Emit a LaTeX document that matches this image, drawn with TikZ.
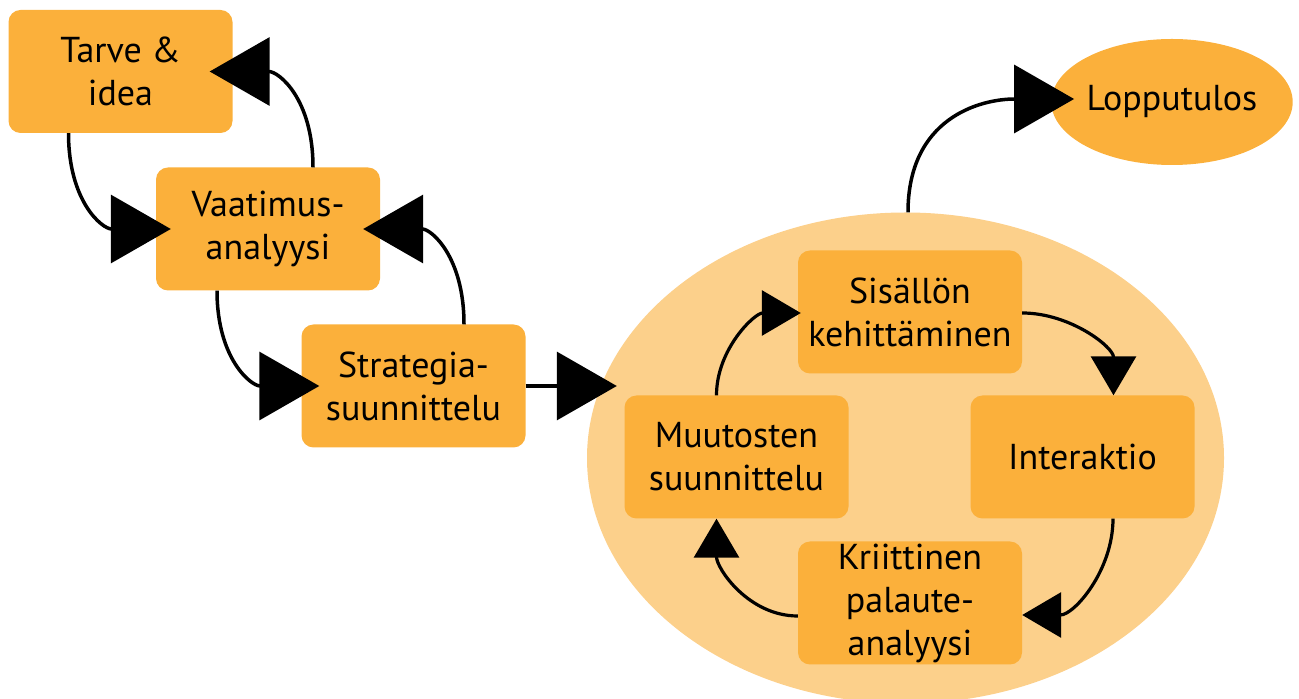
\documentclass[tikz,border=0pt]{standalone}
\usepackage{fontspec}
\setmainfont{PT Sans}
\usetikzlibrary{arrows.meta,shapes.geometric}
\definecolor{boxorange}{HTML}{FBB03B}
\definecolor{cycleorange}{HTML}{FCD08B}
\tikzset{
  phase/.style={fill=boxorange, rounded corners=12pt, minimum width=224pt,
    minimum height=123pt, inner sep=0pt, align=center,
    font=\fontsize{36}{43}\selectfont},
  result/.style={ellipse, fill=boxorange, minimum width=240pt,
    minimum height=126pt, inner sep=0pt, font=\fontsize{36}{43}\selectfont},
  cyclearea/.style={ellipse, fill=cycleorange, minimum width=637pt,
    minimum height=491pt, inner sep=0pt},
  flow/.style={line width=3.5pt, -{Triangle[length=60pt,width=68pt]}},
  cyclearrow/.style={line width=3.2pt, -{Triangle[length=39pt,width=45pt]}},
}
\begin{document}
\begin{tikzpicture}[x=1pt,y=1pt]
		\useasboundingbox (0,0) rectangle (1299,699);
		% background of the development cycle
		\node[cyclearea] (cycle) at (905.5,241) {};
		% boxes
		\node[phase] (tarve) at (120.5,627.5) {Tarve \&\\idea};
		\node[phase] (vaatimus) at (268,470) {Vaatimus-\\analyysi};
		\node[phase] (strategia) at (413.5,313) {Strategia-\\suunnittelu};
		\node[phase] (sisalto) at (910,387) {Sisällön\\kehittäminen};
		\node[phase] (interaktio) at (1082.5,242) {Interaktio};
		\node[phase] (kriittinen) at (910,96) {Kriittinen\\palaute-\\analyysi};
		\node[phase] (muutokset) at (736.5,242) {Muutosten\\suunnittelu};
		\node[result] (tulos) at (1172,597) {Lopputulos};
		% arrows
		\draw[flow] ([xshift=-52pt]tarve.south) to[out=-90,in=180,looseness=1.25] ([xshift=15pt]vaatimus.west);
		\draw[flow] ([xshift=45pt]vaatimus.north) to[out=90,in=0,looseness=1.25] ([xshift=-23pt]tarve.east);
		\draw[flow] ([xshift=-51pt]vaatimus.south) to[out=-90,in=180,looseness=1.25] ([xshift=18pt]strategia.west);
		\draw[flow] ([xshift=50.5pt]strategia.north) to[out=90,in=0,looseness=1.25] ([xshift=-17pt]vaatimus.east);
		\draw[flow] (strategia.east) -- ([xshift=30pt]strategia.east -| cycle.west);
		\draw[flow] ([xshift=2.5pt]cycle.north) to[out=90,in=180,looseness=1.2] ([xshift=23pt,yshift=3pt]tulos.west);
		\draw[cyclearrow] ([xshift=-20pt]muutokset.north) to[out=90,in=180] ([xshift=3pt,yshift=-1pt]sisalto.west);
		\draw[cyclearrow] ([yshift=-1pt]sisalto.east) to[out=0,in=90] ([xshift=31pt]interaktio.north);
		\draw[cyclearrow] ([xshift=30.5pt]interaktio.south) to[out=-90,in=0] ([yshift=-12pt]kriittinen.east);
		\draw[cyclearrow] ([yshift=-13pt]kriittinen.west) to[out=180,in=-90] ([xshift=-20pt]muutokset.south);
	\end{tikzpicture}
\end{document}
